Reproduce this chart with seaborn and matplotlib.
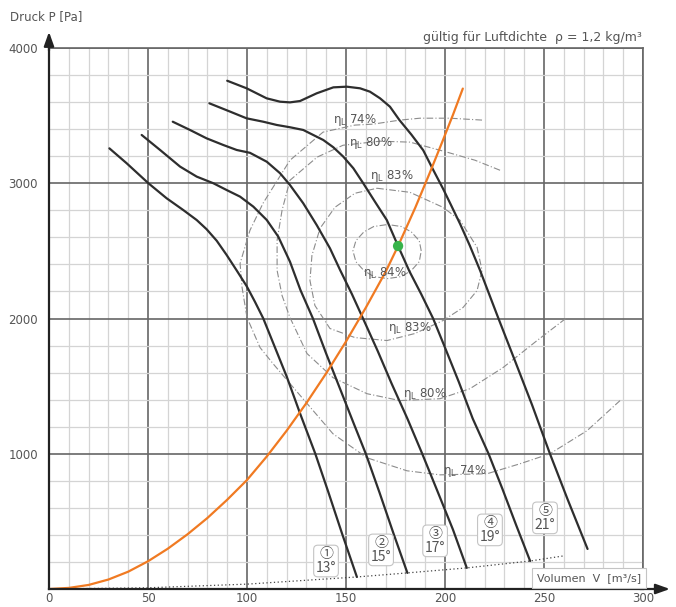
import matplotlib
matplotlib.use("Agg")
import matplotlib.pyplot as plt
import seaborn as sns

# Fan characteristic curves (volume flow m³/s, pressure Pa) for five blade angles
blade_angles = ["13°", "15°", "17°", "19°", "21°"]
blade_numbers = ["①", "②", "③", "④", "⑤"]

v_13 = [30.5, 39.2, 50.2, 59.4, 67.8, 74.6, 79.6, 84.7, 89.7, 94.8, 99.8, 104, 108.2, 113.3, 120.1,
        127, 134.5, 141, 148, 155.5]
p_13 = [3258, 3148, 3000, 2889, 2802, 2728, 2660, 2575, 2470, 2355, 2240, 2124, 2001, 1816, 1569,
        1290, 1000, 720, 410, 89]

v_15 = [46.8, 56.1, 66.2, 74.6, 83, 89.7, 96.5, 103.2, 110, 115.8, 121.7, 127, 133.3, 140, 147, 154,
        160, 167, 174, 181]
p_15 = [3357, 3246, 3123, 3049, 3000, 2950, 2901, 2827, 2728, 2605, 2420, 2210, 2000, 1740, 1480, 1220,
        1000, 710, 410, 119]

v_17 = [62.5, 71.2, 79.6, 88, 94.8, 101.5, 110, 116.7, 121.7, 128.4, 135.2, 141.9, 147, 153, 158.6,
        166, 173, 181, 188.5, 196, 204, 211]
p_17 = [3455, 3394, 3332, 3283, 3246, 3225, 3159, 3074, 2987, 2852, 2691, 2519, 2359, 2180, 2000,
        1760, 1520, 1260, 1000, 730, 440, 156]

v_19 = [81, 91.4, 99.8, 108.2, 115, 121.7, 128.4, 138.5, 143.6, 148.6, 153.7, 158.7, 164.6, 170.6,
        176.3, 182, 188, 194, 200, 207, 214, 222, 229, 236, 243]
p_19 = [3591, 3530, 3480, 3455, 3431, 3414, 3394, 3320, 3266, 3197, 3111, 3000, 2864, 2728,
        2536, 2350, 2180, 2000, 1785, 1530, 1260, 1000, 740, 470, 207]

v_21 = [90, 99.8, 109.9, 116.7, 121.7, 126.8, 135.2, 143.6, 150.4, 157.1, 162.1, 167.2, 172.2, 177,
        183, 189, 194, 199, 203, 207.6, 212.5, 217.7, 227, 235, 244, 253, 262, 272]
p_21 = [3758, 3702, 3628, 3603, 3598, 3608, 3665, 3709, 3714, 3702, 3677, 3628, 3566, 3467,
        3360, 3244, 3100, 2960, 2840, 2700, 2540, 2356, 2000, 1700, 1360, 1000, 660, 296]

# System resistance curve and operating point
sys_v = [0, 10, 20, 30, 40, 50, 60, 70, 80, 90, 100, 110, 120, 130, 140, 150, 160, 170, 176.3,
         185, 192.4, 199, 204, 209]
sys_p = [0, 8, 30, 70, 128, 205, 298, 405, 525, 660, 806, 980, 1170, 1375, 1595, 1830, 2080, 2345, 2536,
         2820, 3080, 3320, 3505, 3700]
op_v = [176.3]
op_p = [2536]

# Lower limit line through the curve ends
lim_v = [0, 50, 100, 155.5, 181, 211, 243, 260]
lim_p = [0, 9, 36, 89, 119, 156, 207, 245]

# Efficiency iso-lines
eta84_v = [188, 187, 183, 178, 171, 164, 159, 155, 153.5, 155, 159, 164, 171, 178, 183, 187, 188]
eta84_p = [2500, 2575, 2640, 2680, 2695, 2680, 2640, 2575, 2500, 2420, 2355, 2310, 2295, 2310, 2355, 2420, 2500]

eta83_v = [165.7, 182.3, 199.0, 207.6, 216.2, 218.7, 216.2, 209.1, 199.0, 184.8, 170.7, 154.5, 141.9, 134.3,
           131.8, 132.8, 136.9, 144.4, 154.5, 165.7]
eta83_p = [2963, 2933, 2822, 2726, 2526, 2356, 2207, 2081, 1985, 1889, 1837, 1859, 1926, 2096,
           2281, 2467, 2667, 2822, 2926, 2963]

eta80_v = [227.8, 215.2, 201, 182.3, 167.2, 148.5, 135.4, 121.7, 117.7, 115.2, 115.2, 117.7, 121.7, 130.3,
           143.4, 160.6, 177.3, 197.5, 212.6, 229.3, 246.5, 261.6]
eta80_p = [3096, 3170, 3230, 3304, 3311, 3281, 3193, 3022, 2800, 2578, 2356, 2170, 2007, 1741,
           1563, 1444, 1393, 1407, 1481, 1637, 1837, 2007]

eta74_v = [218.7, 202.5, 187.4, 177.3, 163.6, 154.5, 138.4, 121.7, 108.1, 101.5, 96.5, 97.5, 100, 106.6,
           113.1, 121.7, 143.4, 160.6, 180.8, 197.5, 221.2, 237.9, 253, 271.7, 288.4]
eta74_p = [3467, 3481, 3481, 3467, 3437, 3430, 3378, 3170, 2852, 2652, 2407, 2230, 2007, 1785,
           1667, 1519, 1148, 970, 874, 844, 852, 926, 1000, 1170, 1393]

eta_labels = ["74%", "80%", "83%", "84%", "83%", "80%", "74%"]
eta_label_v = [154.5, 162.6, 173.0, 169.7, 182.3, 190.0, 210.0]
eta_label_p = [3467, 3296, 3052, 2340, 1933, 1444, 874]

blade_label_v = [139.9, 167.7, 195.0, 222.7, 250.5]
blade_label_p = [207, 289, 356, 437, 526]

x_ticks = [0, 50, 100, 150, 200, 250, 300]
y_ticks = [0, 1000, 2000, 3000, 4000]
y_tick_labels = ["", "1000", "2000", "3000", "4000"]

sns.set_theme(style="white")
plt.rcParams["font.family"] = ["DejaVu Sans", "Noto Sans CJK JP"]
plt.rcParams["mathtext.fontset"] = "dejavusans"

text_col = "#555555"
fig = plt.figure(figsize=(6.76, 6.07), dpi=100)
ax = fig.add_axes([49 / 676, 18 / 607, 594 / 676, 541 / 607])
ax.set_xlim(0, 300)
ax.set_ylim(0, 4000)

# grid
ax.set_xticks(x_ticks)
ax.set_xticks(range(0, 301, 10), minor=True)
ax.set_yticks(y_ticks)
ax.set_yticks(range(0, 4001, 200), minor=True)
ax.set_yticklabels(y_tick_labels)
ax.grid(which="minor", color="#d4d4d4", lw=0.9, zorder=0)
ax.grid(which="major", color="#666666", lw=1.2, zorder=0)
ax.set_axisbelow(True)
ax.tick_params(which="both", length=0, labelsize=8.5, labelcolor=text_col)
ax.tick_params(axis="x", pad=2.5)
ax.tick_params(axis="y", pad=8)
for s in ["top", "right"]:
    ax.spines[s].set_color("#666666")
    ax.spines[s].set_linewidth(1.2)
for s in ["left", "bottom"]:
    ax.spines[s].set_color("#222222")
    ax.spines[s].set_linewidth(1.6)

# axis arrows
ax.annotate("", xy=(0, 1.035), xytext=(0, 0.99), xycoords="axes fraction",
            arrowprops=dict(arrowstyle="-|>,head_length=0.7,head_width=0.25", color="#222222", lw=1.6),
            annotation_clip=False)
ax.annotate("", xy=(1.05, 0), xytext=(0.99, 0), xycoords="axes fraction",
            arrowprops=dict(arrowstyle="-|>,head_length=0.7,head_width=0.25", color="#222222", lw=1.6),
            annotation_clip=False)

# efficiency iso-lines
eta_style = dict(color="#8c8c8c", lw=0.8, linestyle=(0, (6, 2, 1, 2)), sort=False, estimator=None, ax=ax)
for ev, ep in [(eta84_v, eta84_p), (eta83_v, eta83_p), (eta80_v, eta80_p), (eta74_v, eta74_p)]:
    sns.lineplot(x=ev, y=ep, **eta_style)
for lab, lv, lp in zip(eta_labels, eta_label_v, eta_label_p):
    ax.text(lv, lp, "η$_{\\rm L}$ " + lab, ha="center", va="center", fontsize=8.5, color=text_col)

# lower limit line
sns.lineplot(x=lim_v, y=lim_p, color="#444444", lw=0.9, linestyle=(0, (1, 2)), sort=False, estimator=None, ax=ax)

# fan curves
for cv, cp in [(v_13, p_13), (v_15, p_15), (v_17, p_17), (v_19, p_19), (v_21, p_21)]:
    sns.lineplot(x=cv, y=cp, color="#2e2e2e", lw=1.6, sort=False, estimator=None, ax=ax)

# system curve and operating point
sns.lineplot(x=sys_v, y=sys_p, color="#f07a22", lw=1.6, sort=False, estimator=None, ax=ax)
sns.scatterplot(x=op_v, y=op_p, color="#37b34a", s=55, edgecolor="none", zorder=5, ax=ax)
for ln in ax.get_lines():
    ln.set_solid_joinstyle("round")

# blade angle tags
for num, ang, bv, bp in zip(blade_numbers, blade_angles, blade_label_v, blade_label_p):
    ax.text(bv, bp, num + "\n" + ang, ha="center", va="center", fontsize=10, color=text_col,
            family=["Noto Sans CJK JP", "DejaVu Sans"], linespacing=0.95, zorder=6,
            bbox=dict(boxstyle="round,pad=0.15,rounding_size=0.3", fc="white", ec="#c4c4c4", lw=0.8))

ax.set_xlabel("")
ax.set_ylabel("")
ax.text(299, 78, "Volumen  V  [m³/s]", ha="right", va="center", fontsize=8, color=text_col, zorder=6,
        bbox=dict(boxstyle="square,pad=0.45", fc="white", ec="#c4c4c4", lw=0.8))

fig.text(10 / 676, 1 - 17 / 607, "Druck P [Pa]", ha="left", va="center", fontsize=8.5, color=text_col)
fig.text(642 / 676, 1 - 37 / 607, "gültig für Luftdichte  ρ = 1,2 kg/m³", ha="right", va="center",
         fontsize=9, color=text_col)

fig.savefig("out.png", dpi=100)
